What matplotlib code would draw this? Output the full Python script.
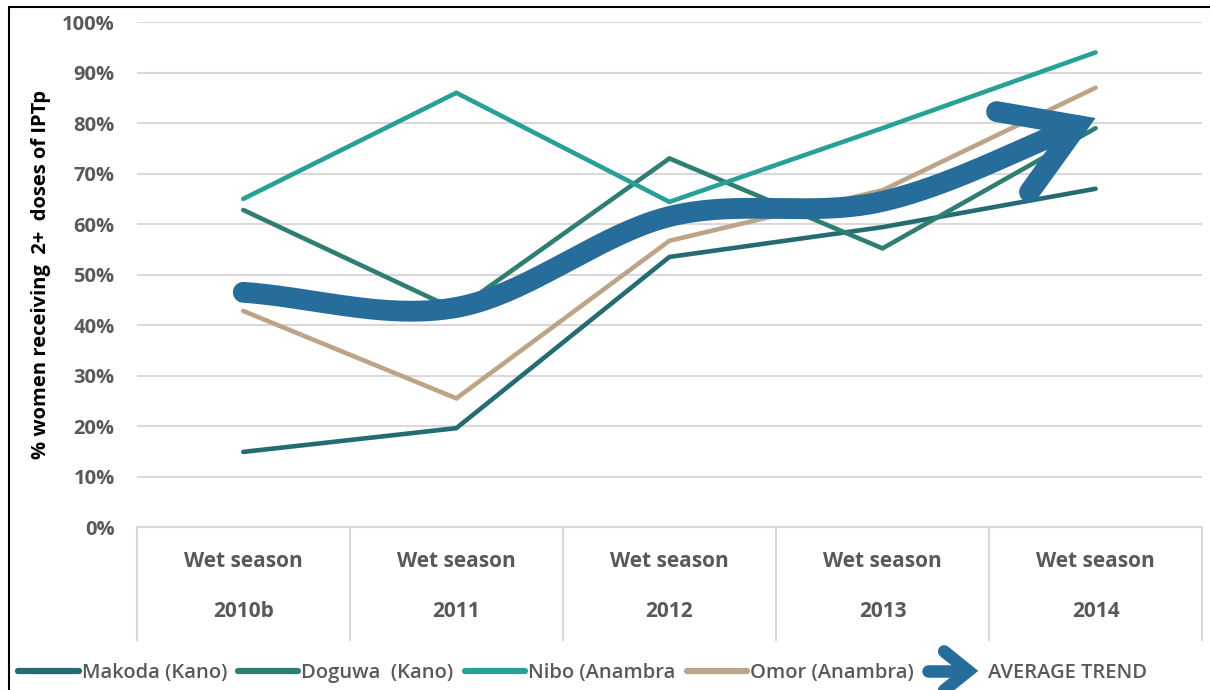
import numpy as np
import matplotlib
matplotlib.use("Agg")
import matplotlib.pyplot as plt
from matplotlib.lines import Line2D
from matplotlib.legend_handler import HandlerBase
from matplotlib.patches import Rectangle, Polygon

plt.rcParams['font.family'] = ['Open Sans', 'DejaVu Sans']

seasons = ["Wet season", "Wet season", "Wet season", "Wet season", "Wet season"]
years = ["2010b", "2011", "2012", "2013", "2014"]

makoda = [14.9, 19.6, 53.5, 59.4, 67.0]
doguwa = [62.8, 43.0, 73.0, 55.2, 79.0]
nibo = [65.0, 86.0, 64.4, 79.0, 94.0]
omor = [42.8, 25.5, 56.7, 66.7, 87.0]
average = [46.5, 43.5, 61.5, 64.5, 81.0]

names = ["Makoda (Kano)", "Doguwa  (Kano)", "Nibo (Anambra", "Omor (Anambra)"]
colors = ["#246b73", "#2e7f72", "#27a096", "#bca587"]
avg_color = "#266d9c"
txt_gray = "#595959"
grid_gray = "#d9d9d9"


def smooth(x, y, n=40):
    # excel-like smoothed line (catmull-rom between points)
    x = np.asarray(x, float)
    y = np.asarray(y, float)
    px = np.concatenate([[2 * x[0] - x[1]], x, [2 * x[-1] - x[-2]]])
    py = np.concatenate([[2 * y[0] - y[1]], y, [2 * y[-1] - y[-2]]])
    xs, ys = [], []
    t = np.linspace(0, 1, n)
    for i in range(1, len(px) - 2):
        for p, out in ((px, xs), (py, ys)):
            p0, p1, p2, p3 = p[i - 1], p[i], p[i + 1], p[i + 2]
            out.extend(0.5 * (2 * p1 + (-p0 + p2) * t
                              + (2 * p0 - 5 * p1 + 4 * p2 - p3) * t ** 2
                              + (-p0 + 3 * p1 - 3 * p2 + p3) * t ** 3))
    return np.array(xs), np.array(ys)


class ArrowHandler(HandlerBase):
    def create_artists(self, legend, orig_handle, xdescent, ydescent,
                       width, height, fontsize, trans):
        cy = height / 2 - ydescent
        w = width
        body = Line2D([w * 0.05, w * 0.6], [cy, cy], color=avg_color, lw=9,
                      solid_capstyle='round', transform=trans)
        head = Polygon([[w * 0.32, cy + 14], [w * 0.72, cy], [w * 0.32, cy - 14]],
                       closed=False, fill=False, edgecolor=avg_color, lw=9,
                       joinstyle='miter', capstyle='round', transform=trans)
        return [body, head]


fig = plt.figure(figsize=(12.1, 6.9), dpi=100)
ax = fig.add_axes([0.113, 0.236, 0.8805, 0.732])

x = np.arange(len(years))
for vals, c in zip([makoda, doguwa, nibo, omor], colors):
    ax.plot(x, vals, color=c, lw=3.3, solid_capstyle='round',
            solid_joinstyle='miter', zorder=3)

ax.set_xlim(-0.5, 4.5)
ax.set_ylim(0, 100)
ax.set_yticks(np.arange(0, 101, 10))
ax.set_yticklabels([f"{v}%" for v in range(0, 101, 10)], color=txt_gray,
                   fontsize=14.5, fontweight='bold')
ax.tick_params(axis='y', length=0, pad=16)
ax.set_xticks([])
ax.grid(axis='y', color=grid_gray, lw=1.5, zorder=0)
for s in ['top', 'right', 'left']:
    ax.spines[s].set_visible(False)
ax.spines['bottom'].set_color(grid_gray)
ax.spines['bottom'].set_linewidth(1.5)
ax.set_ylabel("% women receiving  2+  doses of IPTp", fontsize=14.5,
              fontweight='bold', color='black', labelpad=8)

# average trend: smoothed thick line ending in an open arrow head
fig.canvas.draw()
sx, sy = smooth(x, average)
pts = ax.transData.transform(np.column_stack([sx, sy]))
d = pts[-1] - pts[-6]
d = d / np.hypot(*d)
ang = np.deg2rad(32)
lw_avg = 15
half = lw_avg / 72 * fig.dpi / 2
tip = pts[-1] - d * half / np.sin(ang)
keep = np.hypot(*(pts - pts[-1]).T) > half / np.sin(ang)
body = np.vstack([pts[keep], tip])
body = ax.transData.inverted().transform(body)
ax.plot(body[:, 0], body[:, 1], color=avg_color, lw=lw_avg,
        solid_capstyle='round', zorder=4)

arm = 82
rot = lambda v, a: np.array([v[0] * np.cos(a) - v[1] * np.sin(a),
                             v[0] * np.sin(a) + v[1] * np.cos(a)])
a1 = tip + arm * rot(-d, ang)
a2 = tip + arm * rot(-d, -ang)
head = Polygon([a1, tip, a2], closed=False, fill=False, edgecolor=avg_color,
               lw=lw_avg, joinstyle='miter', capstyle='round', transform=None,
               zorder=5)
fig.add_artist(head)

# category axis labels and separators
for i, (s, yr) in enumerate(zip(seasons, years)):
    ax.annotate(s, xy=(i, 0), xycoords=('data', 'axes fraction'),
                xytext=(0, -24.5), textcoords='offset points', ha='center',
                va='center', fontsize=15, fontweight='bold', color=txt_gray)
    ax.annotate(yr, xy=(i, 0), xycoords=('data', 'axes fraction'),
                xytext=(0, -61), textcoords='offset points', ha='center',
                va='center', fontsize=15, fontweight='bold', color=txt_gray)
for b in np.arange(-0.5, 5, 1):
    ax.plot([b, b], [0, -0.224], color=grid_gray, lw=1.5, clip_on=False,
            transform=ax.get_xaxis_transform())

# legend
handles = [Line2D([], [], color=c, lw=4.5, solid_capstyle='round') for c in colors]
handles.append(Line2D([], [], color=avg_color))
labels = names + ["AVERAGE TREND"]
leg = fig.legend(handles, labels, loc='lower left', bbox_to_anchor=(0.0, -0.016),
                 ncol=5, frameon=False, handlelength=3.0, handletextpad=0.15,
                 columnspacing=0.55, prop={'size': 14.5, 'weight': 'semibold'},
                 handler_map={handles[-1]: ArrowHandler()})
for t in leg.get_texts():
    t.set_color(txt_gray)

# outer frame
fig.add_artist(Rectangle((9 / 1210, -0.1), 1.2, 1 - 7 / 690 + 0.1,
                         transform=fig.transFigure, fill=False,
                         edgecolor='black', lw=1.5))

fig.savefig("out.png", dpi=100)
